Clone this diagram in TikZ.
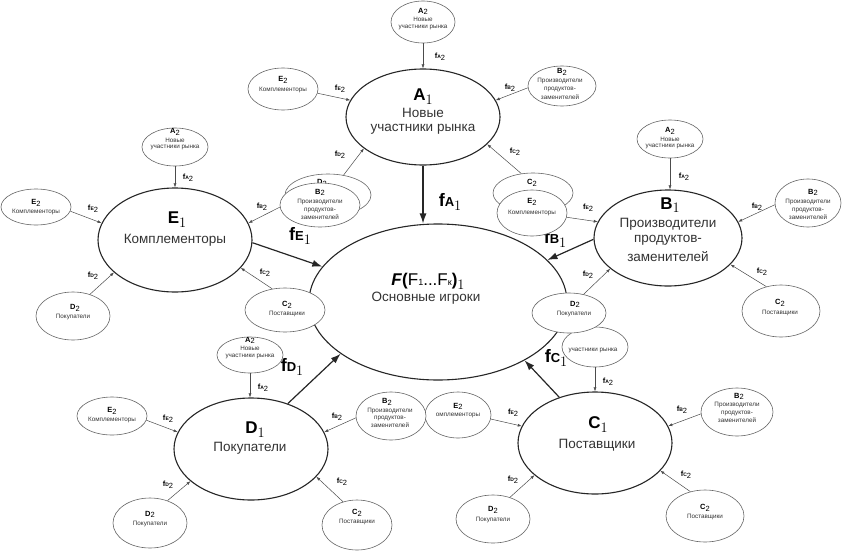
\documentclass[tikz,border=0pt]{standalone}
\usepackage[no-math]{fontspec}
\setmainfont{Liberation Sans}
\usetikzlibrary{shapes.geometric,arrows.meta}
\newcommand\satT[1]{\textbf{#1}\raisebox{-1.8pt}{2}}
\newcommand\fsm[1]{\textbf{f}{\fontsize{5}{5}\selectfont\bfseries #1}\raisebox{-1.8pt}{2}}
\newcommand\subone{{\fontsize{14}{14}\selectfont\raisebox{-4pt}{$1$}}}
\newcommand\subonehi{{\fontsize{14}{14}\selectfont\raisebox{-2.5pt}{$1$}}}
\newcommand\mainT[1]{{\fontsize{17}{17}\selectfont\bfseries #1}\subone}
\newcommand\fbig[1]{{\fontsize{18}{18}\selectfont\bfseries f}{\fontsize{13}{13}\selectfont\bfseries #1}\subone}
\newcommand\satel[5]{\node[satell,minimum width={2*#4pt},minimum height={2*#5pt}] (#1) at (#2,#3) {};}
\begin{document}
\begin{tikzpicture}[x=1pt,y=-1pt,
 mainell/.style={ellipse,draw=black!85,line width=1.1pt,fill=white,inner sep=0pt},
 satell/.style={ellipse,draw=black!60,line width=0.6pt,fill=white,inner sep=0pt},
 mtxt/.style={inner sep=0pt,font=\fontsize{13.5}{15}\selectfont,text=black!80},
 ttl/.style={inner sep=0pt,text=black},
 stxt/.style={inner sep=0pt,font=\fontsize{6.3}{7}\selectfont,text=black!80},
 sttl/.style={inner sep=0pt,font=\fontsize{7.5}{8}\selectfont,text=black},
 flbl/.style={inner sep=0pt,font=\fontsize{7.5}{8}\selectfont,text=black},
 sarr/.style={-{Latex[length=4pt,width=3pt]},line width=0.5pt,draw=black!70},
 carr/.style={-{Latex[length=10pt,width=7pt]},line width=1.2pt,draw=black!85}]
\useasboundingbox (0,0) rectangle (850,551);
\fill[white] (0,0) rectangle (850,551);
% main ellipses
\node[mainell,minimum width=258pt,minimum height=156pt] (F) at (438,302) {};
\node[mainell,minimum width=154pt,minimum height=96pt] (A1) at (423,117) {};
\node[mainell,minimum width=154pt,minimum height=104pt] (E1) at (175,240) {};
\node[mainell,minimum width=148pt,minimum height=96pt] (B1) at (668,238) {};
\node[mainell,minimum width=154pt,minimum height=102pt] (D1) at (251,449) {};
\node[mainell,minimum width=154pt,minimum height=102pt] (C1) at (595,443) {};
% main texts
\node[ttl] (Ft1) at (428,281) {\fontsize{17}{17}\selectfont\textbf{\textit{F}}\textbf{(}F{\fontsize{9}{9}\selectfont 1}...F{\fontsize{9}{9}\selectfont к}\textbf{)}\subone};
\node[mtxt] (Ft2) at (426,298) {Основные игроки};
\node[ttl] (A1t1) at (423,97) {\mainT{A}};
\node[mtxt] (A1t2) at (423,113) {Новые};
\node[mtxt] (A1t3) at (423,129) {участники рынка};
\node[ttl] (E1t1) at (177,220) {\mainT{E}};
\node[mtxt] (E1t2) at (175,240) {Комплементоры};
\node[ttl] (B1t1) at (670,205) {{\fontsize{17}{17}\selectfont\bfseries B}\subonehi};
\node[mtxt] (B1t2) at (668,224) {Производители};
\node[mtxt] (B1t3) at (668,240.5) {продуктов-};
\node[mtxt] (B1t4) at (668,257) {заменителей};
\node[ttl] (D1t1) at (255,430) {\mainT{D}};
\node[mtxt] (D1t2) at (250,448) {Покупатели};
\node[ttl] (C1t1) at (598,425) {\mainT{C}};
\node[mtxt] (C1t2) at (597,445) {Поставщики};
% central labels
\node[ttl] (lA1) at (450,202) {\fbig{A}};
\node[ttl] (lE1) at (300,236) {\fbig{E}};
\node[ttl] (lB1) at (555,239) {\fbig{B}};
\node[ttl] (lD1) at (292,367) {\fbig{D}};
\node[ttl] (lC1) at (556,358) {\fbig{C}};
% small labels
\node[flbl] (A1la) at (440,57) {\fsm{A}};
\node[flbl] (A1le) at (340,89) {\fsm{E}};
\node[flbl] (A1lb) at (510,88) {\fsm{B}};
\node[flbl] (A1ld) at (340,155) {\fsm{D}};
\node[flbl] (A1lc) at (515,152) {\fsm{C}};
\node[flbl] (E1la) at (188,178) {\fsm{A}};
\node[flbl] (E1le) at (93,209) {\fsm{E}};
\node[flbl] (E1lb) at (262,207) {\fsm{B}};
\node[flbl] (E1lc) at (265,273) {\fsm{C}};
\node[flbl] (E1ld) at (93,276) {\fsm{D}};
\node[flbl] (B1la) at (684,177) {\fsm{A}};
\node[flbl] (B1lb) at (757,207) {\fsm{B}};
\node[flbl] (B1le) at (588,208) {\fsm{E}};
\node[flbl] (B1ld) at (588,275) {\fsm{D}};
\node[flbl] (B1lc) at (762,272) {\fsm{C}};
\node[flbl] (D1la) at (263,388) {\fsm{A}};
\node[flbl] (D1le) at (168,419) {\fsm{E}};
\node[flbl] (D1lb) at (337,417) {\fsm{B}};
\node[flbl] (D1ld) at (168,485) {\fsm{D}};
\node[flbl] (D1lc) at (342,482) {\fsm{C}};
\node[flbl] (C1la) at (608,382) {\fsm{A}};
\node[flbl] (C1le) at (513,413) {\fsm{E}};
\node[flbl] (C1lb) at (682,410) {\fsm{B}};
\node[flbl] (C1ld) at (513,480) {\fsm{D}};
\node[flbl] (C1lc) at (686,475) {\fsm{C}};
% ---- A1 group
\satel{A1a}{423}{22}{32}{21}
\node[sttl] (A1a1) at (423,11.5) {\satT{A}};
\node[stxt] (A1a2) at (423,19.5) {Новые};
\node[stxt] (A1a3) at (423,27) {участники рынка};
\satel{A1e}{283}{89}{35}{21}
\node[sttl] (A1e1) at (283,80) {\satT{E}};
\node[stxt] (A1e2) at (283,90) {Комплементоры};
\satel{A1b}{562}{86}{34}{20}
\node[sttl] (A1b1) at (562,72) {\satT{B}};
\node[stxt] (A1b2) at (560,81) {Производители};
\node[stxt] (A1b3) at (560,89) {продуктов-};
\node[stxt] (A1b4) at (560,97) {заменителей};
\satel{A1d}{328}{195}{43}{21}
\node[sttl] (A1d1) at (322,183) {\satT{D}};
\satel{A1c}{533}{193}{40}{20}
\node[sttl] (A1c1) at (532,183) {\satT{C}};
% ---- E1 group
\satel{E1a}{175}{147}{33}{19}
\node[sttl] (E1a1) at (175,132) {\satT{A}};
\node[stxt] (E1a2) at (175,140) {Новые};
\node[stxt] (E1a3) at (175,147.5) {участники рынка};
\satel{E1e}{36}{207}{35}{18}
\node[sttl] (E1e1) at (36,203) {\satT{E}};
\node[stxt] (E1e2) at (36,212) {Комплементоры};
\satel{E1b}{320}{205}{40}{22}
\node[sttl] (E1b1) at (320,192.5) {\satT{B}};
\node[stxt] (E1b2) at (320,202) {Производители};
\node[stxt] (E1b3) at (320,210) {продуктов-};
\node[stxt] (E1b4) at (320,217.5) {заменителей};
\satel{E1c}{285}{310}{40}{22}
\node[sttl] (E1c1) at (287,305) {\satT{C}};
\node[stxt] (E1c2) at (287,314) {Поставщики};
\satel{E1d}{73}{316}{37}{24}
\node[sttl] (E1d1) at (75,308) {\satT{D}};
\node[stxt] (E1d2) at (73,316.5) {Покупатели};
% ---- C1 group (A2 under B1's D2)
\satel{C1a}{595}{347}{33}{20}
\node[stxt] (C1a3) at (593,350) {участники рынка};
\satel{C1e}{458}{415}{33}{23}
\node[sttl] (C1e1) at (458,406.5) {\satT{E}};
\node[stxt] (C1e2) at (458,415.5) {омплементоры};
\satel{C1b}{737}{412}{36}{24}
\node[sttl] (C1b1) at (739,396.5) {\satT{B}};
\node[stxt] (C1b2) at (737,405) {Производители};
\node[stxt] (C1b3) at (737,413) {продуктов-};
\node[stxt] (C1b4) at (737,420.5) {заменителей};
\satel{C1d}{493}{519}{37}{24}
\node[sttl] (C1d1) at (493,510) {\satT{D}};
\node[stxt] (C1d2) at (493,519.5) {Покупатели};
\satel{C1c}{705}{516}{39}{26}
\node[sttl] (C1c1) at (705,507.5) {\satT{C}};
\node[stxt] (C1c2) at (705,517) {Поставщики};
% ---- B1 group
\satel{B1a}{670}{139}{33}{19}
\node[sttl] (B1a1) at (670,131) {\satT{A}};
\node[stxt] (B1a2) at (670,139) {Новые};
\node[stxt] (B1a3) at (670,146.5) {участники рынка};
\satel{B1b}{808}{203}{33}{24}
\node[sttl] (B1b1) at (813,192.5) {\satT{B}};
\node[stxt] (B1b2) at (808,202) {Производители};
\node[stxt] (B1b3) at (808,210) {продуктов-};
\node[stxt] (B1b4) at (808,217.5) {заменителей};
\satel{B1e}{532}{213}{35}{23}
\node[sttl] (B1e1) at (532,202) {\satT{E}};
\node[stxt] (B1e2) at (532,213) {Комплементоры};
\satel{B1d}{569}{313}{37}{20}
\node[sttl] (B1d1) at (575,304.5) {\satT{D}};
\node[stxt] (B1d2) at (574,313.5) {Покупатели};
\satel{B1c}{781}{311}{39}{26}
\node[sttl] (B1c1) at (780,303) {\satT{C}};
\node[stxt] (B1c2) at (780,312.5) {Поставщики};
% ---- D1 group
\satel{D1a}{250}{355}{33}{18}
\node[sttl] (D1a1) at (250,340.5) {\satT{A}};
\node[stxt] (D1a2) at (250,348.5) {Новые};
\node[stxt] (D1a3) at (250,356) {участники рынка};
\satel{D1e}{112}{416}{35}{19}
\node[sttl] (D1e1) at (112,411) {\satT{E}};
\node[stxt] (D1e2) at (112,420) {Комплементоры};
\satel{D1b}{391}{416}{35}{24}
\node[sttl] (D1b1) at (387,402) {\satT{B}};
\node[stxt] (D1b2) at (390,410.5) {Производители};
\node[stxt] (D1b3) at (390,418) {продуктов-};
\node[stxt] (D1b4) at (390,425.5) {заменителей};
\satel{D1d}{150}{523}{37}{25}
\node[sttl] (D1d1) at (150,514.5) {\satT{D}};
\node[stxt] (D1d2) at (150,524) {Покупатели};
\satel{D1c}{357}{525}{35}{25}
\node[sttl] (D1c1) at (357,512.5) {\satT{C}};
\node[stxt] (D1c2) at (357,522) {Поставщики};
% satellite arrows
\foreach \g/\m in {A1/A1,E1/E1,B1/B1,D1/D1,C1/C1}{
  \draw[sarr] (\g a.south) -- (\g a.south |- \m.north);
  \draw[sarr] (\g e.-7) -- (\m.167);
  \draw[sarr] (\g b.183) -- (\m.13);
  \draw[sarr] (\g d.52) -- (\m.208);
  \draw[sarr] (\g c.121) -- (\m.337);
}
% central arrows
\draw[carr] (A1.south) -- (A1.south |- F.north);
\draw[carr] (E1.-2) -- (F.163);
\draw[carr] (B1.181) -- (F.21);
\draw[carr] (D1.51) -- (F.208);
\draw[carr] (C1.128) -- (F.326);
\end{tikzpicture}
\end{document}
